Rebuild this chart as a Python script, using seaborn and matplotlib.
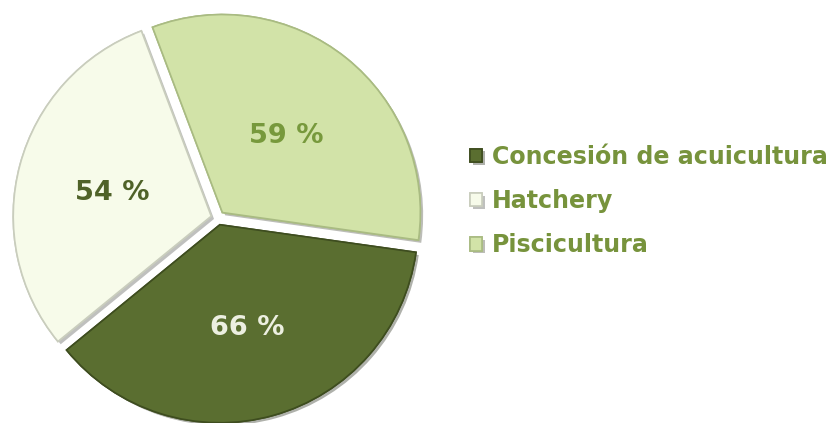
import matplotlib
matplotlib.use("Agg")
import matplotlib.pyplot as plt
import matplotlib.patheffects as pe
import matplotlib.transforms as mtransforms
import seaborn as sns

# Data
categories = ['Concesión de acuicultura', 'Hatchery', 'Piscicultura']
values = [66, 54, 59]
slice_colors = ['#5a6e30', '#f7fbea', '#d2e3a8']
edge_colors = ['#3e4d1f', '#c9cdbd', '#a9bb82']
label_colors = ['#ecefe0', '#4f6228', '#77993c']

sns.set_theme(style="white")
plt.rcParams['font.family'] = ['DejaVu Sans']

fig = plt.figure(figsize=(8.33, 4.23), dpi=100)
# pie axes placed so the centre sits near (218, 218) px
ax = fig.add_axes([(218 - 212) / 833, (205 - 212) / 423, 424 / 833, 424 / 423])

total = sum(values)
wedges, texts, autotexts = ax.pie(
    values,
    colors=slice_colors,
    startangle=-8,
    counterclock=False,
    explode=[0.035, 0.035, 0.035],
    radius=0.99,
    autopct=lambda p: f"{round(p * total / 100):.0f} %",
    pctdistance=0.52,
    wedgeprops=dict(linewidth=1.2),
    textprops=dict(fontsize=19.5, fontweight='bold'),
)

for w, ec in zip(wedges, edge_colors):
    w.set_edgecolor(ec)
    w.set_path_effects([pe.withSimplePatchShadow(offset=(2, -2), alpha=0.35), pe.Normal()])

# nudge value labels a little lower, as in the original
shift = mtransforms.offset_copy(ax.transData, fig=fig, x=0, y=-4, units='dots')
for t, c in zip(autotexts, label_colors):
    t.set_color(c)
    t.set_transform(shift)

ax.set_xlim(-1.06, 1.06)
ax.set_ylim(-1.06, 1.06)
ax.set_aspect('equal')
ax.axis('off')

leg = fig.legend(
    wedges, categories,
    loc='center left',
    bbox_to_anchor=(449 / 833, 1 - 201 / 423),
    frameon=False,
    handlelength=0.5,
    handleheight=0.5,
    handletextpad=0.42,
    labelspacing=0.85,
    prop=dict(size=17.1, weight='bold'),
    labelcolor='#77933c',
)

fig.savefig('out.png', dpi=100)
